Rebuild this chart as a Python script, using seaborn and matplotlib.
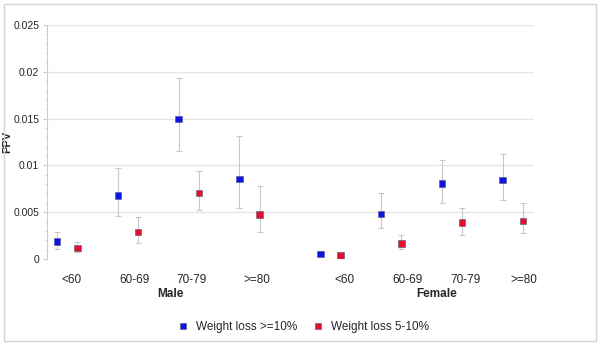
import numpy as np
import pandas as pd
import matplotlib
matplotlib.use("Agg")
import matplotlib.pyplot as plt
import seaborn as sns

# datos
sexo = ["Male"] * 4 + ["Female"] * 4
edad = ["<60", "60-69", "70-79", ">=80"] * 2
ppv_10 = [0.00185, 0.00678, 0.01498, 0.00857, 0.00056, 0.00482, 0.00807, 0.00843]
low_10 = [0.00103, 0.00457, 0.01158, 0.00543, 0.00040, 0.00328, 0.00597, 0.00629]
high_10 = [0.00290, 0.00975, 0.01938, 0.01310, 0.00088, 0.00707, 0.01061, 0.01122]
ppv_5 = [0.00117, 0.00289, 0.00704, 0.00474, 0.00039, 0.00167, 0.00389, 0.00407]
low_5 = [0.00070, 0.00170, 0.00520, 0.00292, 0.00030, 0.00103, 0.00253, 0.00278]
high_5 = [0.00178, 0.00446, 0.00940, 0.00782, 0.00048, 0.00253, 0.00543, 0.00597]
series = ["Weight loss >=10%", "Weight loss 5-10%"]
colores = ["#0a14e6", "#e6102e"]

# posicion en x de cada punto (indice de la hoja)
x_10 = [0, 3, 6, 9, 13, 16, 19, 22]
x_5 = [1, 4, 7, 10, 14, 17, 20, 23]
pos_etiquetas = [0.7, 3.8, 6.65, 9.85, 14.2, 17.3, 20.15, 23.05]

df = pd.DataFrame({
    "x": x_10 + x_5,
    "ppv": ppv_10 + ppv_5,
    "low": low_10 + low_5,
    "high": high_10 + high_5,
    "serie": [series[0]] * 8 + [series[1]] * 8,
})

sns.set_style("white")
plt.rcParams["font.family"] = ["Liberation Sans", "DejaVu Sans"]

fig = plt.figure(figsize=(6, 3.44), dpi=100)
ax = fig.add_axes([47 / 600, 1 - 259 / 344, 487 / 600, 234 / 344])

# barras de error
ax.errorbar(df["x"], df["ppv"],
            yerr=[df["ppv"] - df["low"], df["high"] - df["ppv"]],
            fmt="none", ecolor="#c8c8c8", elinewidth=0.8, capsize=2.5,
            capthick=0.8, zorder=2)

sns.scatterplot(data=df, x="x", y="ppv", hue="serie", hue_order=series,
                palette=colores, marker="s", s=22, linewidth=0.4,
                edgecolor="#555577", ax=ax, zorder=3)

ax.set_xlim(-0.5, 23.55)
ax.set_ylim(0, 0.025)
ax.set_yticks([0, 0.005, 0.01, 0.015, 0.02, 0.025])
ax.set_yticklabels(["0", "0.005", "0.01", "0.015", "0.02", "0.025"])
ax.set_yticks(np.arange(0, 0.0251, 0.001), minor=True)
ax.yaxis.grid(True, color="#e6e6e6", linewidth=1)
ax.set_axisbelow(True)
ax.tick_params(axis="y", which="major", length=3, color="#cccccc",
               labelsize=7.5, pad=2.5, left=True)
ax.tick_params(axis="y", which="minor", length=2, color="#dddddd", left=True)

ax.set_xticks(pos_etiquetas)
ax.set_xticklabels(edad, fontsize=8.5)
ax.tick_params(axis="x", length=0, pad=11)

for lado in ["top", "right", "bottom"]:
    ax.spines[lado].set_visible(False)
ax.spines["left"].set_color("#cccccc")
ax.spines["left"].set_linewidth(0.8)

ax.set_xlabel("")
ax.set_ylabel("PPV", fontsize=8, fontweight="bold")
ax.yaxis.set_label_coords(-35 / 487, 0.5)

trans = ax.get_xaxis_transform()
ax.text(5.6, -0.148, "Male", transform=trans, ha="center", va="center",
        fontsize=8.5, fontweight="bold")
ax.text(18.75, -0.148, "Female", transform=trans, ha="center", va="center",
        fontsize=8.5, fontweight="bold")

sns.move_legend(ax, "center", bbox_to_anchor=(0.5, 1 - 327 / 344),
                bbox_transform=fig.transFigure, ncol=2, frameon=False,
                title=None, fontsize=8.5, handletextpad=0.1, columnspacing=0.8,
                markerscale=0.8)

# borde del grafico
fig.add_artist(plt.Rectangle((4 / 600, 3 / 344), 592 / 600, 337 / 344,
                             transform=fig.transFigure, fill=False,
                             edgecolor="#d4d4d4", linewidth=1))

plt.savefig("out.png", dpi=100)
